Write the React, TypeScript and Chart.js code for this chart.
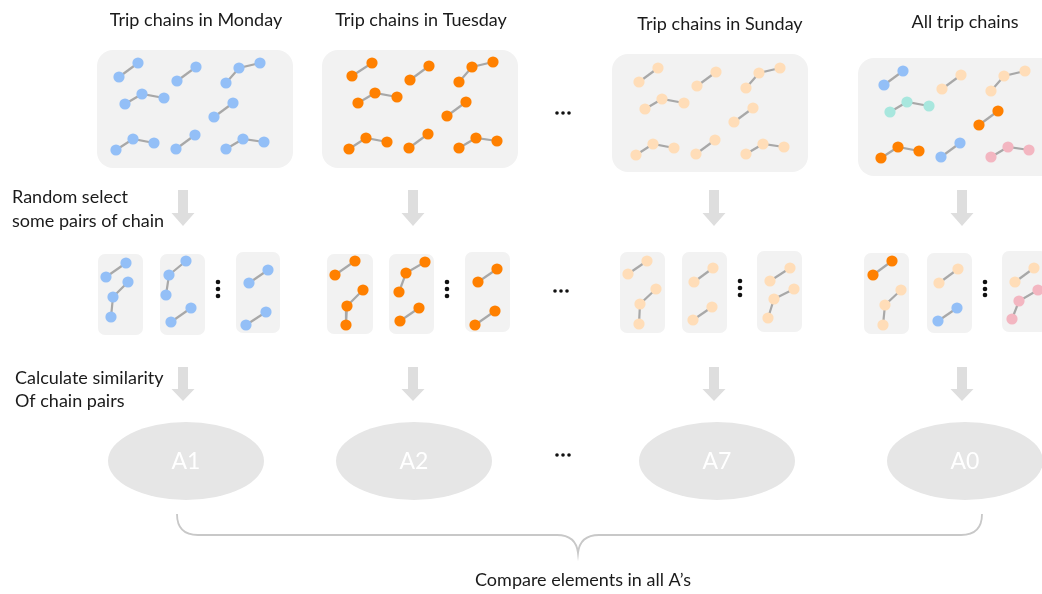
import { useEffect, useRef } from "react"
import { Chart, registerables, type ChartConfiguration, type Plugin } from "chart.js"

Chart.register(...registerables)

type Pt = [number, number]

// labels
const columnTitles = ["Trip chains in Monday", "Trip chains in Tuesday", "Trip chains in Sunday", "All trip chains"]
const stepLabels = [
  ["Random select", "some pairs of chain"],
  ["Calculate similarity", "Of chain pairs"],
]
const resultLabels = ["A1", "A2", "A7", "A0"]
const footerLabel = "Compare elements in all A\u2019s"

// chain colours
const BLUE = "#93BFF7"
const ORANGE = "#FF8000"
const PEACH = "#FFDDB8"
const TEAL = "#A8E7DE"
const PINK = "#F3B6C1"

// top row: all chains of a day
const mondayChains: Pt[][] = [
  [[119, 77], [138, 63]],
  [[177, 81], [196, 67]],
  [[226, 83], [239, 68], [260, 63]],
  [[125, 104], [142, 94], [164, 98]],
  [[214, 117], [233, 103]],
  [[116, 150], [133, 139], [154, 143]],
  [[176, 149], [195, 135]],
  [[226, 149], [243, 139], [264, 142]],
]
const tuesdayChains: Pt[][] = [
  [[352, 76], [372, 63]],
  [[410, 80], [429, 66]],
  [[459, 82], [472, 67], [493, 62]],
  [[358, 103], [375, 93], [397, 97]],
  [[447, 116], [466, 102]],
  [[349, 149], [366, 138], [387, 142]],
  [[409, 148], [428, 134]],
  [[459, 148], [476, 138], [497, 141]],
]
const sundayChains: Pt[][] = [
  [[639, 82], [658, 68]],
  [[697, 86], [716, 72]],
  [[746, 88], [759, 73], [780, 68]],
  [[645, 109], [662, 99], [684, 103]],
  [[734, 122], [753, 108]],
  [[636, 155], [653, 144], [674, 148]],
  [[696, 154], [715, 140]],
  [[746, 154], [763, 144], [784, 147]],
]
const allChains: Pt[][] = [
  [[884, 85], [903, 71]],
  [[942, 89], [961, 75]],
  [[991, 91], [1004, 76], [1025, 71]],
  [[890, 112], [907, 102], [929, 106]],
  [[979, 125], [998, 111]],
  [[881, 158], [898, 147], [919, 151]],
  [[941, 157], [960, 143]],
  [[991, 157], [1008, 147], [1029, 150]],
]
const allChainColors = [BLUE, PEACH, PEACH, TEAL, ORANGE, ORANGE, BLUE, PINK]

// middle row: sampled pairs
const mondayPairs: Pt[][] = [
  [[106, 277], [126, 263]],
  [[128, 282], [113, 297], [111, 317]],
  [[186, 261], [169, 275], [166, 295]],
  [[171, 322], [191, 308]],
  [[249, 283], [268, 270]],
  [[246, 325], [266, 312]],
]
const tuesdayPairs: Pt[][] = [
  [[335, 275], [355, 261]],
  [[363, 290], [347, 306], [346, 325]],
  [[425, 262], [406, 273], [399, 292]],
  [[400, 321], [419, 308]],
  [[478, 282], [497, 269]],
  [[475, 325], [495, 311]],
]
const sundayPairs: Pt[][] = [
  [[628, 274], [647, 261]],
  [[656, 289], [640, 304], [639, 324]],
  [[694, 282], [713, 268]],
  [[693, 320], [712, 307]],
  [[770, 281], [790, 268]],
  [[794, 289], [774, 299], [768, 318]],
]
const allPairs: Pt[][] = [
  [[873, 275], [892, 261]],
  [[901, 290], [885, 305], [883, 325]],
  [[939, 283], [958, 269]],
  [[938, 321], [957, 308]],
  [[1015, 282], [1034, 268]],
  [[1038, 290], [1019, 301], [1012, 319]],
]
const allPairColors = [ORANGE, PEACH, PEACH, BLUE, PEACH, PINK]

// ellipsis marks
const verticalDots: Pt[] = [
  [218, 282], [218, 289], [218, 296],
  [447, 282], [447, 289], [447, 296],
  [740, 281], [740, 288], [740, 295],
  [985, 282], [985, 289], [985, 295],
]
const horizontalDots: Pt[] = [
  [557, 113], [563, 113], [569, 113],
  [555, 291], [561, 291], [567, 291],
  [557, 455], [563, 455], [569, 455],
]

// layout of the diagram (x, y, w, h in the 1042x594 value space)
const dayBoxes = [
  [97, 50, 196, 118],
  [322, 50, 196, 118],
  [612, 54, 196, 118],
  [858, 58, 200, 118],
]
const pairCards = [
  [98, 254, 45, 81], [160, 254, 45, 81], [236, 252, 44, 81],
  [327, 254, 46, 80], [389, 254, 45, 80], [465, 252, 45, 80],
  [620, 252, 45, 81], [682, 252, 45, 81], [757, 251, 45, 81],
  [864, 253, 45, 81], [927, 253, 45, 80], [1002, 251, 45, 81],
]
const columnX = [183, 413, 714, 962]
const titleX = [196, 421, 720, 965]
const titleY = [20, 20, 24, 22]
const ellipseX = [186, 414, 717, 965]

const FONT = "Lato, 'Open Sans', sans-serif"

function chainSets(chains: Pt[][], colors: string[]) {
  return chains.map((c, i) => ({
    data: c.map(([x, y]) => ({ x, y })),
    showLine: true,
    borderColor: "#A8A8A8",
    borderWidth: 2.2,
    pointRadius: 5.6,
    pointHoverRadius: 5.6,
    pointBorderWidth: 0,
    pointBackgroundColor: colors[i],
    clip: false as const,
  }))
}

const diagramPlugin: Plugin<"scatter"> = {
  id: "diagram",
  beforeDatasetsDraw(chart) {
    const { ctx } = chart
    const sx = chart.scales.x
    const sy = chart.scales.y
    const X = (v: number) => sx.getPixelForValue(v)
    const Y = (v: number) => sy.getPixelForValue(v)

    ctx.save()
    ctx.fillStyle = "#F2F2F2"
    dayBoxes.forEach(([x, y, w, h]) => {
      ctx.beginPath()
      ctx.roundRect(X(x), Y(y), X(x + w) - X(x), Y(y + h) - Y(y), 16)
      ctx.fill()
    })
    pairCards.forEach(([x, y, w, h]) => {
      ctx.beginPath()
      ctx.roundRect(X(x), Y(y), X(x + w) - X(x), Y(y + h) - Y(y), 7)
      ctx.fill()
    })

    // down arrows
    ctx.fillStyle = "#DEDEDE"
    const arrowRows = [
      [190, 213, 226],
      [367, 389, 401],
    ]
    arrowRows.forEach(([top, neck, tip]) => {
      columnX.forEach((cx) => {
        ctx.beginPath()
        ctx.moveTo(X(cx - 5), Y(top))
        ctx.lineTo(X(cx + 5), Y(top))
        ctx.lineTo(X(cx + 5), Y(neck))
        ctx.lineTo(X(cx + 11.5), Y(neck))
        ctx.lineTo(X(cx), Y(tip))
        ctx.lineTo(X(cx - 11.5), Y(neck))
        ctx.lineTo(X(cx - 5), Y(neck))
        ctx.closePath()
        ctx.fill()
      })
    })

    // result ellipses
    ctx.fillStyle = "#E6E6E6"
    ellipseX.forEach((cx) => {
      ctx.beginPath()
      ctx.ellipse(X(cx), Y(461), X(78) - X(0), Y(39) - Y(0), 0, 0, Math.PI * 2)
      ctx.fill()
    })

    // brace
    ctx.strokeStyle = "#C8C8C8"
    ctx.lineWidth = 1.8
    ctx.beginPath()
    ctx.moveTo(X(177), Y(514))
    ctx.quadraticCurveTo(X(177), Y(535), X(198), Y(535))
    ctx.lineTo(X(557), Y(535))
    ctx.quadraticCurveTo(X(576), Y(535), X(578), Y(553))
    ctx.quadraticCurveTo(X(580), Y(535), X(599), Y(535))
    ctx.lineTo(X(961), Y(535))
    ctx.quadraticCurveTo(X(982), Y(535), X(982), Y(514))
    ctx.stroke()
    ctx.restore()
  },
  afterDatasetsDraw(chart) {
    const { ctx } = chart
    const sx = chart.scales.x
    const sy = chart.scales.y
    const X = (v: number) => sx.getPixelForValue(v)
    const Y = (v: number) => sy.getPixelForValue(v)

    ctx.save()
    ctx.fillStyle = "#1A1A1A"
    ctx.font = `18px ${FONT}`
    ctx.textBaseline = "middle"
    ctx.textAlign = "center"
    columnTitles.forEach((t, i) => ctx.fillText(t, X(titleX[i]), Y(titleY[i])))
    ctx.fillText(footerLabel, X(583), Y(580))

    ctx.textAlign = "left"
    ctx.fillText(stepLabels[0][0], X(12), Y(197))
    ctx.fillText(stepLabels[0][1], X(12), Y(221))
    ctx.fillText(stepLabels[1][0], X(15), Y(378))
    ctx.fillText(stepLabels[1][1], X(15), Y(401))

    ctx.fillStyle = "#FFFFFF"
    ctx.textAlign = "center"
    ctx.font = `23px ${FONT}`
    resultLabels.forEach((t, i) => ctx.fillText(t, X(ellipseX[i]), Y(462)))
    ctx.restore()
  },
}

export default function App() {
  const chartRef = useRef<HTMLCanvasElement>(null)
  const chartInstance = useRef<Chart | null>(null)

  useEffect(() => {
    document.body.style.margin = "0"
    if (!chartRef.current) return
    const ctx = chartRef.current.getContext("2d")
    if (!ctx) return

    if (chartInstance.current) {
      chartInstance.current.destroy()
    }

    const dotSet = (pts: Pt[], r: number) => ({
      data: pts.map(([x, y]) => ({ x, y })),
      showLine: false,
      pointRadius: r,
      pointHoverRadius: r,
      pointBorderWidth: 0,
      pointBackgroundColor: "#111111",
      clip: false as const,
    })

    const config: ChartConfiguration<"scatter"> = {
      type: "scatter",
      data: {
        datasets: [
          ...chainSets(mondayChains, mondayChains.map(() => BLUE)),
          ...chainSets(tuesdayChains, tuesdayChains.map(() => ORANGE)),
          ...chainSets(sundayChains, sundayChains.map(() => PEACH)),
          ...chainSets(allChains, allChainColors),
          ...chainSets(mondayPairs, mondayPairs.map(() => BLUE)),
          ...chainSets(tuesdayPairs, tuesdayPairs.map(() => ORANGE)),
          ...chainSets(sundayPairs, sundayPairs.map(() => PEACH)),
          ...chainSets(allPairs, allPairColors),
          dotSet(verticalDots, 2.3),
          dotSet(horizontalDots, 1.8),
        ] as any,
      },
      options: {
        responsive: false,
        animation: false,
        events: [],
        layout: { padding: 0, autoPadding: false },
        scales: {
          x: { type: "linear", min: 0, max: 1042, display: false },
          y: { type: "linear", min: 0, max: 594, reverse: true, display: false },
        },
        plugins: {
          legend: { display: false },
          tooltip: { enabled: false },
        },
      },
      plugins: [diagramPlugin],
    }

    chartInstance.current = new Chart(ctx, config)

    return () => {
      if (chartInstance.current) {
        chartInstance.current.destroy()
        chartInstance.current = null
      }
    }
  }, [])

  return (
    <div style={{ width: 1042, height: 594, background: "#FFFFFF" }}>
      <canvas ref={chartRef} width={1042} height={594} />
    </div>
  )
}
